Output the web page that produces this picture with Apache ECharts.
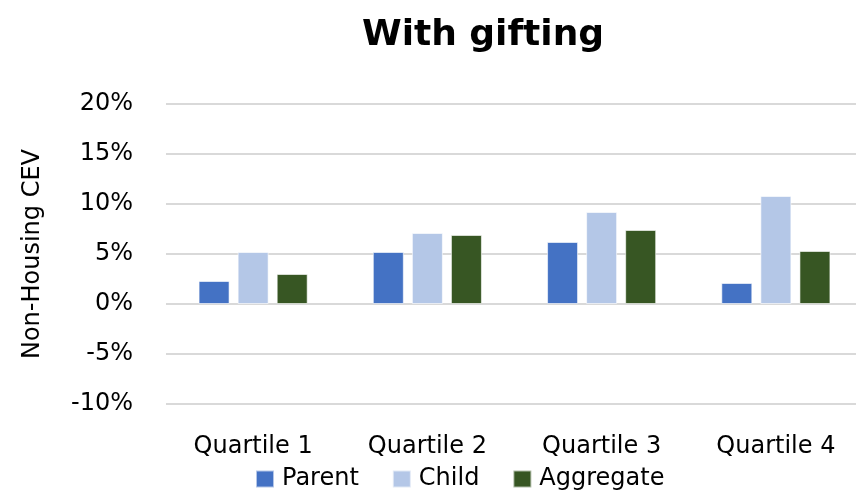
<!DOCTYPE html>
<html>
<head>
<meta charset="utf-8">
<script src="https://cdn.jsdelivr.net/npm/echarts@6/dist/echarts.min.js"></script>
<style>
  html, body { margin: 0; padding: 0; background: #fff; }
  #chart { width: 856px; height: 490px; }
</style>
</head>
<body>
<div id="chart"></div>
<script>
// Non-housing consumption-equivalent variation by wealth quartile
const categories = ['Quartile 1', 'Quartile 2', 'Quartile 3', 'Quartile 4'];
const parentValues = [2.3, 5.2, 6.2, 2.1];
const childValues = [5.2, 7.1, 9.2, 10.8];
const aggregateValues = [3.0, 6.9, 7.4, 5.3];
const yTicks = { min: -10, max: 20, step: 5 };

const FONT = '"DejaVu Sans", sans-serif';
const chart = echarts.init(document.getElementById('chart'), null, { renderer: 'canvas' });

function barSeries(name, data, color) {
  return {
    name: name,
    type: 'bar',
    data: data,
    barWidth: 31,
    barGap: '26%',
    itemStyle: { color: color, borderColor: 'rgba(255,255,255,0.6)', borderWidth: 1 }
  };
}

chart.setOption({
  animation: false,
  backgroundColor: '#ffffff',
  title: {
    text: 'With gifting',
    left: 478,
    textAlign: 'center',
    top: 13,
    textStyle: { fontFamily: FONT, fontWeight: 'bold', fontSize: 36, color: '#000' }
  },
  legend: {
    left: 250,
    top: 462,
    itemWidth: 18,
    itemHeight: 17,
    itemGap: 33,
    icon: 'rect',
    textStyle: { fontFamily: FONT, fontSize: 24, color: '#000', padding: [0, 0, 0, 3] }
  },
  grid: { left: 166, right: -7, top: 104, bottom: 86, containLabel: false, outerBoundsMode: 'none' },
  xAxis: {
    type: 'category',
    data: categories,
    axisLine: { show: false, onZero: false },
    axisTick: { show: false },
    axisLabel: { fontFamily: FONT, fontSize: 24, color: '#000', margin: 31 }
  },
  yAxis: {
    type: 'value',
    min: yTicks.min,
    max: yTicks.max,
    interval: yTicks.step,
    name: 'Non-Housing CEV',
    nameLocation: 'middle',
    nameGap: 121,
    nameRotate: 90,
    nameTextStyle: { fontFamily: FONT, fontSize: 24, color: '#000' },
    axisLine: { show: false },
    axisTick: { show: false },
    axisLabel: {
      fontFamily: FONT, fontSize: 24, color: '#000', margin: 33,
      formatter: v => v + '%'
    },
    splitLine: { lineStyle: { color: '#d9d9d9', width: 2 } }
  },
  series: [
    barSeries('Parent', parentValues, '#4472C4'),
    barSeries('Child', childValues, '#B4C7E7'),
    barSeries('Aggregate', aggregateValues, '#375623')
  ]
});
</script>
</body>
</html>
